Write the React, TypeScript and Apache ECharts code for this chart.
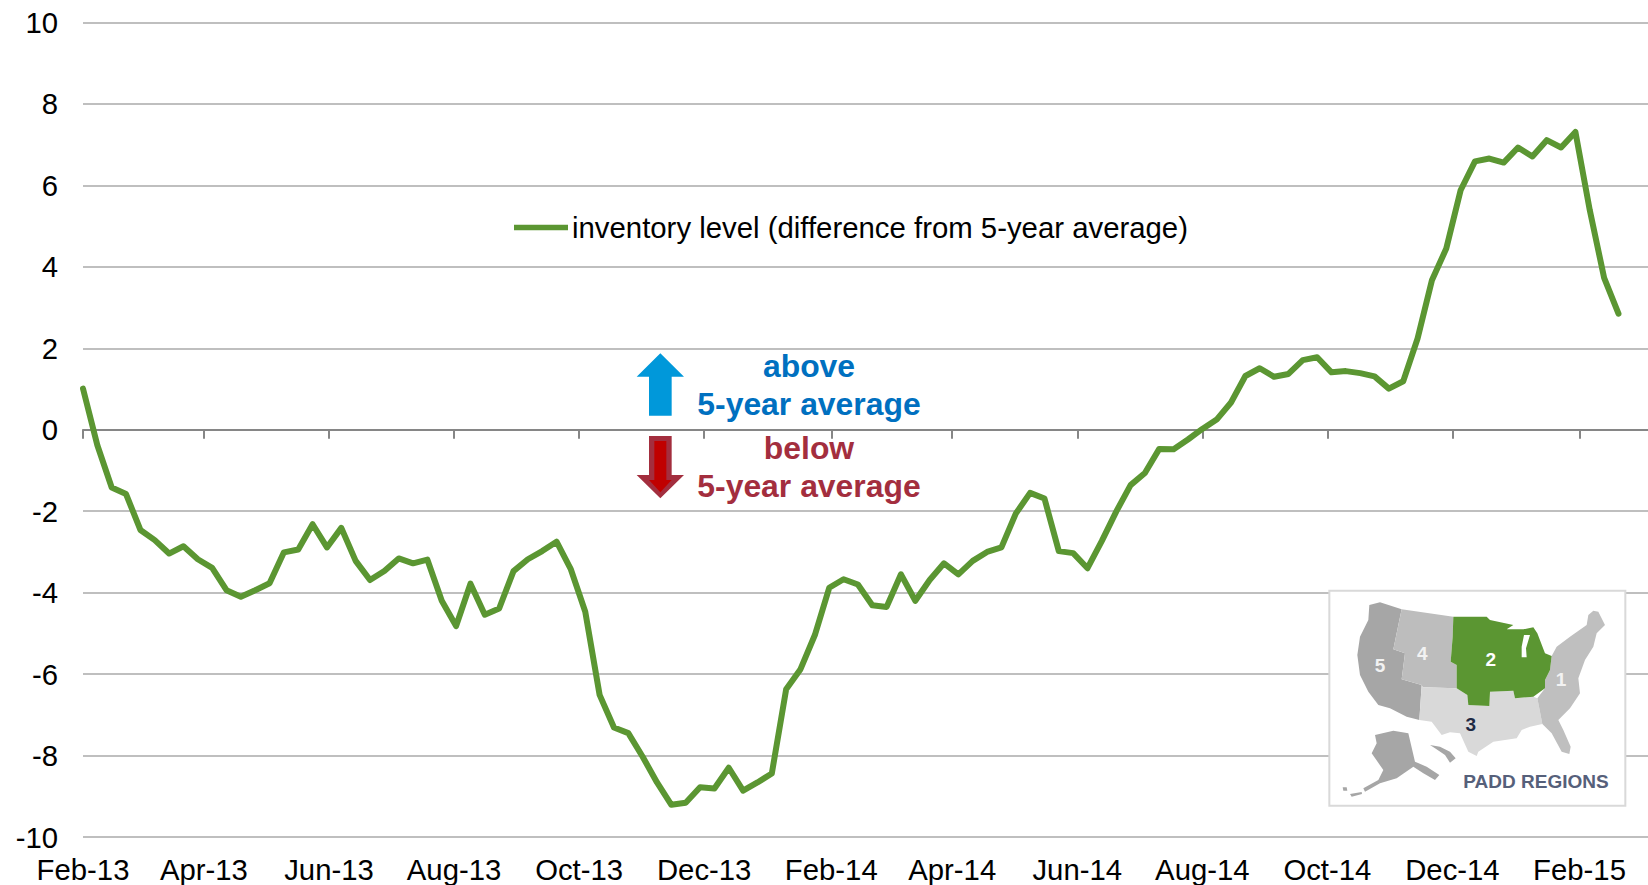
import React, { useEffect, useRef } from "react";
import * as echarts from "echarts";

const seriesName = "inventory level (difference from 5-year average)";
const inventory = [
  1.01, -0.38, -1.42, -1.58, -2.46, -2.71, -3.04, -2.86, -3.18, -3.39, -3.94, -4.1, -3.94, -3.77, -3.01, -2.94, -2.32, -2.89,
  -2.41, -3.22, -3.69, -3.47, -3.16, -3.28, -3.19, -4.2, -4.82, -3.78, -4.54, -4.39, -3.47, -3.18, -2.98, -2.75, -3.43, -4.47,
  -6.51, -7.31, -7.45, -8.03, -8.66, -9.21, -9.16, -8.78, -8.81, -8.3, -8.86, -8.66, -8.44, -6.37, -5.88, -5.04, -3.88, -3.67,
  -3.8, -4.31, -4.35, -3.55, -4.2, -3.69, -3.28, -3.55, -3.22, -3.0, -2.89, -2.06, -1.55, -1.69, -2.98, -3.03, -3.4, -2.73,
  -2.01, -1.36, -1.06, -0.47, -0.48, -0.24, 0.02, 0.25, 0.67, 1.32, 1.51, 1.3, 1.37, 1.71, 1.78, 1.41, 1.44, 1.39, 1.31, 1.01,
  1.19, 2.24, 3.67, 4.45, 5.88, 6.59, 6.66, 6.56, 6.93, 6.71, 7.11, 6.93, 7.31, 5.39, 3.73, 2.85,
];
const tickLabels = ["Feb-13", "Apr-13", "Jun-13", "Aug-13", "Oct-13", "Dec-13", "Feb-14", "Apr-14", "Jun-14", "Aug-14", "Oct-14", "Dec-14", "Feb-15"];
const tickDates = [
  [2013, 1], [2013, 3], [2013, 5], [2013, 7], [2013, 9], [2013, 11],
  [2014, 1], [2014, 3], [2014, 5], [2014, 7], [2014, 9], [2014, 11], [2015, 1],
];

const DAY = 86400000;
const START = Date.UTC(2013, 1, 1);
const tickValues = tickDates.map(([y, m]) => Date.UTC(y, m, 1));
const points = inventory.map((v, i) => [START + i * 7 * DAY, v]);

const GREEN = "#5b9632";
const FONT = '"Liberation Sans", Arial, sans-serif';

// Inset map outlines, traced in reference crop units
const mapRegions: { fill: string; pts: number[][] }[] = [
  { fill: "#a6a6a6", pts: [[208,105],[240,97],[305,118],[295,165],[280,238],[315,250],[305,328],[365,345],[358,450],[320,440],[270,415],[235,405],[205,365],[180,315],[172,255],[180,200],[205,150]] },
  { fill: "#bdbdbd", pts: [[305,118],[460,140],[458,200],[452,275],[470,285],[470,355],[368,352],[365,345],[305,328],[315,250],[280,238],[295,165]] },
  { fill: "#d9d9d9", pts: [[368,352],[470,355],[502,375],[505,405],[568,408],[570,365],[640,362],[645,385],[700,380],[712,385],[727,462],[690,470],[665,480],[650,505],[580,515],[535,545],[530,558],[505,545],[480,490],[450,487],[425,495],[395,455],[358,450],[365,345]] },
  { fill: "#bfbfbf", pts: [[880,122],[895,125],[915,165],[890,190],[880,230],[855,270],[835,325],[840,370],[810,415],[775,450],[790,480],[812,530],[808,552],[785,545],[755,490],[727,462],[712,385],[735,355],[735,330],[750,300],[755,258],[770,230],[810,200],[860,165],[865,135]] },
  { fill: GREEN, pts: [[460,140],[560,140],[570,150],[640,165],[620,178],[670,178],[700,172],[712,190],[735,250],[755,258],[750,300],[735,330],[735,355],[700,380],[645,385],[640,362],[570,365],[568,408],[505,405],[502,375],[470,355],[470,285],[452,275],[458,200]] },
  { fill: "#ffffff", pts: [[672,195],[690,195],[678,235],[680,262],[665,262],[665,230]] },
  { fill: "#a6a6a6", pts: [[225,495],[280,482],[325,490],[345,575],[380,590],[418,615],[405,630],[370,610],[340,590],[290,625],[240,640],[195,665],[190,655],[235,630],[250,600],[215,550],[230,520]] },
  { fill: "#a6a6a6", pts: [[128,652],[140,652],[142,662],[130,662]] },
  { fill: "#a6a6a6", pts: [[150,672],[185,666],[186,672],[155,680]] },
  { fill: "#a6a6a6", pts: [[390,525],[420,530],[450,545],[467,565],[450,578],[435,555],[405,535]] },
];
const mapNumbers: { t: string; x: number; y: number; c: string }[] = [
  { t: "5", x: 240, y: 287, c: "#f2f2f2" },
  { t: "4", x: 367, y: 250, c: "#f2f2f2" },
  { t: "2", x: 572, y: 268, c: "#ffffff" },
  { t: "1", x: 783, y: 328, c: "#f2f2f2" },
  { t: "3", x: 512, y: 462, c: "#1f2a44" },
];

const mx = (x: number) => 1300 + x / 3;
const my = (y: number) => 570 + y / 3;
const ax = (x: number) => 600 + x / 3;
const ay = (y: number) => 330 + y / 3;

const arrow = (pts: number[][], fill: string) => ({
  type: "polygon", z: 20, shape: { points: pts.map(([x, y]) => [ax(x), ay(y)]) }, style: { fill },
});
const caption = (text: string, y: number, fill: string) => ({
  type: "text", z: 20, x: 809, y,
  style: { text, fill, font: `bold 31.9px ${FONT}`, textAlign: "center", textVerticalAlign: "middle" },
});

export default function App() {
  const ref = useRef<HTMLDivElement>(null);
  useEffect(() => {
    const chart = echarts.init(ref.current!, null, { renderer: "svg" });
    chart.setOption({
      animation: false,
      backgroundColor: "#ffffff",
      grid: { left: 83, right: 0, top: 22.5, bottom: 48, containLabel: false, outerBoundsMode: "none" },
      legend: {
        show: true, left: 509, top: 208, icon: "rect", itemWidth: 54, itemHeight: 5.5, itemGap: 0,
        textStyle: { fontFamily: FONT, fontSize: 29.35, color: "#000000", padding: [0, 0, 0, -1] },
        data: [seriesName],
      },
      xAxis: {
        type: "value", min: START, max: START + 763.4 * DAY, splitLine: { show: false },
        axisLine: { show: true, onZero: true, lineStyle: { color: "#868686", width: 2 } },
        axisTick: { show: true, length: 9, customValues: tickValues, lineStyle: { color: "#868686", width: 2 } },
        axisLabel: {
          show: true, customValues: tickValues, margin: 18, fontFamily: FONT, fontSize: 29.3, color: "#000000",
          hideOverlap: false,
          formatter: (v: number) => tickLabels[tickValues.indexOf(v)] ?? "",
        },
      },
      yAxis: {
        type: "value", min: -10, max: 10, interval: 2,
        axisLine: { show: false }, axisTick: { show: false },
        axisLabel: { margin: 25, fontFamily: FONT, fontSize: 29.3, color: "#000000" },
        splitLine: { show: true, lineStyle: { color: "#bfbfbf", width: 2 } },
      },
      series: [{
        name: seriesName, type: "line", data: points, showSymbol: false, symbol: "none", smooth: false,
        lineStyle: { color: GREEN, width: 6, cap: "round", join: "round" }, itemStyle: { color: GREEN },
        z: 5,
      }],
      graphic: [
        arrow([[181,70],[252,140],[215,140],[215,257],[147,257],[147,140],[110,140]], "#0098da"),
        arrow([[147,318],[215,318],[215,435],[252,435],[181,505],[110,435],[147,435]], "#a32e3e"),
        arrow([[163,333],[199,333],[199,450],[215,450],[181,487],[147,450],[163,450]], "#c00000"),
        caption("above", 366, "#0070c0"),
        caption("5-year average", 404, "#0070c0"),
        caption("below", 448, "#a32e3e"),
        caption("5-year average", 486, "#a32e3e"),
        { type: "rect", z: 20, shape: { x: mx(88), y: my(62), width: 296, height: 215 }, style: { fill: "#ffffff", stroke: "#d9d9d9", lineWidth: 2 } },
        ...mapRegions.map((r) => ({ type: "polygon", z: 21, shape: { points: r.pts.map(([x, y]) => [mx(x), my(y)]) }, style: { fill: r.fill } })),
        ...mapNumbers.map((n) => ({
          type: "text", z: 22, x: mx(n.x), y: my(n.y),
          style: { text: n.t, fill: n.c, font: `bold 19px ${FONT}`, textAlign: "center", textVerticalAlign: "middle" },
        })),
        {
          type: "text", z: 22, x: mx(708), y: my(635),
          style: { text: "PADD REGIONS", fill: "#56607a", font: `bold 19px ${FONT}`, textAlign: "center", textVerticalAlign: "middle" },
        },
      ],
    });
    return () => chart.dispose();
  }, []);
  return <div ref={ref} style={{ position: "absolute", left: 0, top: 0, width: 1648, height: 885 }} />;
}
